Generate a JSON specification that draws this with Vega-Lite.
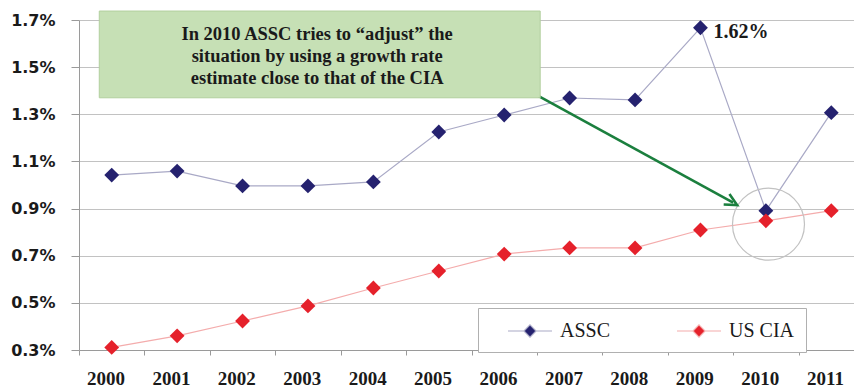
{
  "$schema": "https://vega.github.io/schema/vega-lite/v6.json",
  "width": 785,
  "height": 330,
  "autosize": {"type": "none"},
  "padding": {"left": 79, "top": 20, "right": 0, "bottom": 42},
  "background": "white",
  "config": {
    "view": {"stroke": null},
    "legend": {
      "title": null,
      "orient": "none",
      "legendX": 399,
      "legendY": 288,
      "direction": "horizontal",
      "columns": 2,
      "padding": 11,
      "strokeColor": "#b0b0b0",
      "fillColor": "white",
      "symbolType": "M-2,0L-0.55,0M0,-0.55L0.55,0L0,0.55L-0.55,0ZM0.55,0L2,0",
      "symbolSize": 484,
      "symbolOffset": 29,
      "symbolStrokeWidth": 1.2,
      "labelOffset": 18,
      "columnPadding": 47,
      "labelFont": "Liberation Serif",
      "labelFontSize": 20,
      "labelColor": "#1a1a1a"
    }
  },
  "datasets": {
    "series": [
      {"year": 2000, "series": "ASSC", "value": 1.042},
      {"year": 2001, "series": "ASSC", "value": 1.059},
      {"year": 2002, "series": "ASSC", "value": 0.996},
      {"year": 2003, "series": "ASSC", "value": 0.996},
      {"year": 2004, "series": "ASSC", "value": 1.013},
      {"year": 2005, "series": "ASSC", "value": 1.225},
      {"year": 2006, "series": "ASSC", "value": 1.297},
      {"year": 2007, "series": "ASSC", "value": 1.369},
      {"year": 2008, "series": "ASSC", "value": 1.361},
      {"year": 2009, "series": "ASSC", "value": 1.667},
      {"year": 2010, "series": "ASSC", "value": 0.891},
      {"year": 2011, "series": "ASSC", "value": 1.307},
      {"year": 2000, "series": "US CIA", "value": 0.311},
      {"year": 2001, "series": "US CIA", "value": 0.36},
      {"year": 2002, "series": "US CIA", "value": 0.423},
      {"year": 2003, "series": "US CIA", "value": 0.487},
      {"year": 2004, "series": "US CIA", "value": 0.563},
      {"year": 2005, "series": "US CIA", "value": 0.635},
      {"year": 2006, "series": "US CIA", "value": 0.707},
      {"year": 2007, "series": "US CIA", "value": 0.733},
      {"year": 2008, "series": "US CIA", "value": 0.733},
      {"year": 2009, "series": "US CIA", "value": 0.809},
      {"year": 2010, "series": "US CIA", "value": 0.848},
      {"year": 2011, "series": "US CIA", "value": 0.891}
    ],
    "peak": [{"year": 2009, "value": 1.667, "label": "1.62%"}],
    "circle": [{"year": 2010.04, "value": 0.834}],
    "arrow": [{"year": 2006.52, "value": 1.378, "year2": 2009.5, "value2": 0.925}],
    "arrowhead": [{"year": 2009.56, "value": 0.915}],
    "box": [{"year": 1999.81, "year2": 2006.55, "value": 1.738, "value2": 1.37}],
    "note": [{"year": 2003.14, "value": 1.641, "text": "In 2010 ASSC tries to “adjust” the\nsituation by using a growth rate\nestimate close to that of the CIA"}]
  },
  "layer": [
    {
      "data": {"name": "series"},
      "mark": {"type": "line", "strokeWidth": 1.2},
      "encoding": {
        "x": {
          "field": "year", "type": "quantitative",
          "scale": {"domain": [1999.5, 2011.5], "nice": false, "zero": false},
          "axis": {
            "title": null,
            "values": [1999.5, 2000.5, 2001.5, 2002.5, 2003.5, 2004.5, 2005.5, 2006.5, 2007.5, 2008.5, 2009.5, 2010.5],
            "labelExpr": "format(datum.value + 0.5, 'd')",
            "labelOffset": 26.5,
            "labelOverlap": false,
            "labelFlush": false,
            "grid": false,
            "tickSize": 5,
            "tickColor": "#9a9a9a",
            "domainColor": "#9a9a9a",
            "labelFont": "Liberation Serif",
            "labelFontSize": 19,
            "labelFontWeight": "bold",
            "labelColor": "#1a1a1a",
            "labelPadding": 14
          }
        },
        "y": {
          "field": "value", "type": "quantitative",
          "scale": {"domain": [0.3, 1.7], "nice": false, "zero": false},
          "axis": {
            "title": null,
            "values": [0.3, 0.5, 0.7, 0.9, 1.1, 1.3, 1.5, 1.7],
            "labelExpr": "format(datum.value, '.1f') + '%'",
            "labelOverlap": false,
            "labelFlush": false,
            "grid": true,
            "gridColor": "#c2c2c2",
            "gridWidth": 1.2,
            "tickSize": 8,
            "tickColor": "#9a9a9a",
            "domainColor": "#9a9a9a",
            "labelFont": "DejaVu Sans",
            "labelFontSize": 16,
            "labelFontWeight": "bold",
            "labelColor": "#1a1a1a",
            "labelPadding": 16
          }
        },
        "stroke": {
          "field": "series", "type": "nominal",
          "scale": {"domain": ["ASSC", "US CIA"], "range": ["#a9a9c6", "#f4acac"]},
          "legend": {"labelExpr": "datum.label === 'US CIA' ? 'US CIA        ' : datum.label"}
        }
      }
    },
    {
      "data": {"name": "series"},
      "mark": {"type": "point", "shape": "diamond", "filled": true, "size": 220, "opacity": 1},
      "encoding": {
        "x": {"field": "year", "type": "quantitative"},
        "y": {"field": "value", "type": "quantitative"},
        "fill": {
          "field": "series", "type": "nominal",
          "scale": {"domain": ["ASSC", "US CIA"], "range": ["#25226f", "#e5212b"]},
          "legend": {"labelExpr": "datum.label === 'US CIA' ? 'US CIA        ' : datum.label"}
        }
      }
    },
    {
      "data": {"name": "peak"},
      "mark": {"type": "text", "align": "left", "baseline": "middle", "dx": 13, "dy": 4, "font": "Liberation Serif", "fontSize": 20, "fontWeight": "bold", "color": "#1a1a1a"},
      "encoding": {
        "x": {"field": "year", "type": "quantitative"},
        "y": {"field": "value", "type": "quantitative"},
        "text": {"field": "label"}
      }
    },
    {
      "data": {"name": "circle"},
      "mark": {"type": "point", "shape": "circle", "filled": false, "size": 5184, "stroke": "#c2c2c2", "strokeWidth": 1.2, "opacity": 1},
      "encoding": {
        "x": {"field": "year", "type": "quantitative"},
        "y": {"field": "value", "type": "quantitative"}
      }
    },
    {
      "data": {"name": "arrow"},
      "mark": {"type": "rule", "color": "#1b7f3e", "strokeWidth": 2.6},
      "encoding": {
        "x": {"field": "year", "type": "quantitative"},
        "y": {"field": "value", "type": "quantitative"},
        "x2": {"field": "year2"},
        "y2": {"field": "value2"}
      }
    },
    {
      "data": {"name": "arrowhead"},
      "mark": {"type": "point", "shape": "M-1.2,-0.6L0,0L-1.2,0.6", "filled": false, "size": 400, "angle": 28.7, "stroke": "#1b7f3e", "strokeWidth": 2.6, "opacity": 1},
      "encoding": {
        "x": {"field": "year", "type": "quantitative"},
        "y": {"field": "value", "type": "quantitative"}
      }
    },
    {
      "data": {"name": "box"},
      "mark": {"type": "rect", "fill": "#c6e0b5", "stroke": "#b2cf9e", "strokeWidth": 1},
      "encoding": {
        "x": {"field": "year", "type": "quantitative"},
        "x2": {"field": "year2"},
        "y": {"field": "value", "type": "quantitative"},
        "y2": {"field": "value2"}
      }
    },
    {
      "data": {"name": "note"},
      "mark": {"type": "text", "align": "center", "baseline": "middle", "lineBreak": "\n", "lineHeight": 22, "font": "Liberation Serif", "fontSize": 18.5, "fontWeight": "bold", "color": "#1a1a1a"},
      "encoding": {
        "x": {"field": "year", "type": "quantitative"},
        "y": {"field": "value", "type": "quantitative"},
        "text": {"field": "text"}
      }
    }
  ]
}
